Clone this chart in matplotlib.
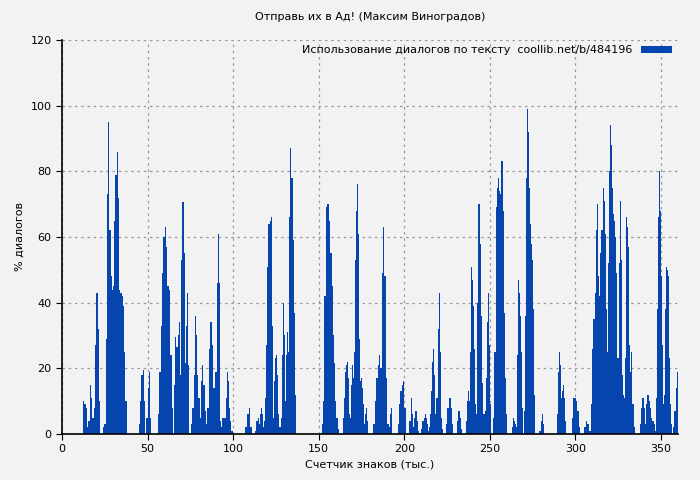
import numpy as np
import matplotlib
matplotlib.use("Agg")
import matplotlib.pyplot as plt

# dialogue share per text chunk, grouped by runs
seg_start = [12.3, 24, 45, 56, 65.5, 75.5, 84.9, 89, 107, 113, 152, 164, 182, 191,
             196.3, 203, 210, 224.5, 231, 236, 252, 263, 270, 279, 289, 298, 305,
             309, 337.7, 347, 357]
seg_end = [21.6, 37, 51.5, 64, 73.8, 84, 88.3, 99, 110, 136, 161, 178, 190, 192.5,
           200, 208, 222, 228, 233, 250, 259.5, 269, 276, 281, 294, 302, 308,
           334, 346.5, 356, 359.5]
seg_values = [
    [10, 9, 8, 2, 4, 15, 11, 5, 8, 27, 43, 32, 10],
    [2, 3, 29, 73, 95, 62, 48, 44, 45, 65, 79, 86, 72, 44, 43, 42, 39, 25, 10],
    [3, 10, 18, 19.5, 10, 0, 5, 14, 19, 5],
    [6, 19, 33, 49, 60, 63, 57, 45, 44, 24, 8],
    [15, 29.5, 26.5, 30, 34, 18, 53, 70.5, 55, 21.5, 33, 43, 21],
    [3, 8, 18, 36, 30, 18, 11, 5, 16, 21, 15, 7, 3],
    [8, 26, 34, 27, 14],
    [2, 19, 46, 61, 46, 4, 2, 5, 5, 5, 11, 19, 16, 8, 4, 1],
    [2, 6, 8, 2],
    [1, 4, 5, 3, 6, 8, 6, 2, 4, 11, 27, 51, 64, 65, 66, 33, 5, 16, 23, 24, 18, 6,
     2, 5, 24, 40, 30, 10, 24, 31, 25, 66, 87, 78, 59, 37, 12],
    [3, 10, 42, 69, 70, 70, 65, 55, 45, 30, 21.5, 10, 5, 1.5],
    [5, 11, 19, 21, 22, 17, 6, 5, 15, 21, 17, 25, 53, 68, 76, 61, 29, 16, 17, 14,
     9, 3, 6, 8, 4],
    [3, 10, 17, 21, 24, 20, 49, 63, 48, 17, 3],
    [2, 6, 8, 4],
    [3, 9, 13, 15, 16, 8],
    [4, 11, 6, 2, 5, 7, 4, 1],
    [1.5, 4, 5, 6, 5, 3, 1, 2, 6, 13, 22, 26, 18, 6, 11, 32, 43, 25, 5, 1.5],
    [3, 8, 11, 11, 8, 3],
    [4, 7, 5, 1.5],
    [4, 10, 13, 10, 25, 51, 47, 39, 26, 9, 6, 40, 70, 70, 58, 36, 15.5, 6, 6, 7,
     17, 34, 43, 27, 9],
    [5, 25, 69, 75, 78, 74, 73, 83, 68, 37, 17, 6],
    [2, 5, 4, 3, 2, 24, 47, 43, 36, 25, 8],
    [7, 36, 78, 99, 92, 75, 64, 58, 53, 38, 12],
    [1, 4, 6, 3],
    [6, 19, 25, 21, 11, 13, 15, 11, 4],
    [5, 11, 11, 10, 7, 2],
    [2, 4, 3, 1],
    [9, 26, 35, 35, 43, 62, 70, 48, 42, 55, 62, 75, 71, 61, 38, 25, 52, 80, 94, 88,
     75, 67, 65, 60, 49, 23, 52, 71, 53, 18, 12, 11, 23, 66, 63, 57, 27, 19, 25, 9, 2],
    [3, 8, 11, 8, 3, 9, 12, 10, 8, 5, 4, 3, 1],
    [11, 38, 66, 80, 68, 48, 27, 9, 12, 38, 51, 50, 48, 23, 9, 3],
    [2, 7, 14, 19],
]

xs, ys, ws = [], [], []
for s, e, v in zip(seg_start, seg_end, seg_values):
    step = (e - s) / (len(v) - 1)
    xs.extend(np.linspace(s, e, len(v)))
    ys.extend(v)
    ws.extend([max(0.62, step)] * len(v))

bg = "#f2f2f2"
fig = plt.figure(figsize=(7, 4.8), dpi=100, facecolor=bg)
ax = fig.add_axes([0.0886, 0.0958, 0.88, 0.821], facecolor=bg)

ax.bar(xs, ys, width=ws, color="#0645ad", linewidth=0, align="edge",
       label="Использование диалогов по тексту  coollib.net/b/484196")

ax.set_xlim(0, 360)
ax.set_ylim(0, 120)
ax.set_xticks(range(0, 351, 50))
ax.set_yticks(range(0, 121, 20))
ax.grid(True, color="#999999", linestyle=(0, (2, 3)), linewidth=0.9)
ax.set_axisbelow(True)
for s in ("top", "right"):
    ax.spines[s].set_visible(False)
ax.spines["left"].set_linewidth(1.2)
ax.spines["bottom"].set_linewidth(1.2)
ax.tick_params(labelsize=8, length=4)

ax.set_title("Отправь их в Ад! (Максим Виноградов)", fontsize=8, pad=14)
ax.set_xlabel("Счетчик знаков (тыс.)", fontsize=8)
ax.set_ylabel("% диалогов", fontsize=8)
ax.legend(loc="upper right", fontsize=8, frameon=False, markerfirst=False,
          handlelength=2.8, handleheight=0.6, borderaxespad=0.1)

fig.savefig("out.png", dpi=100, facecolor=bg)
